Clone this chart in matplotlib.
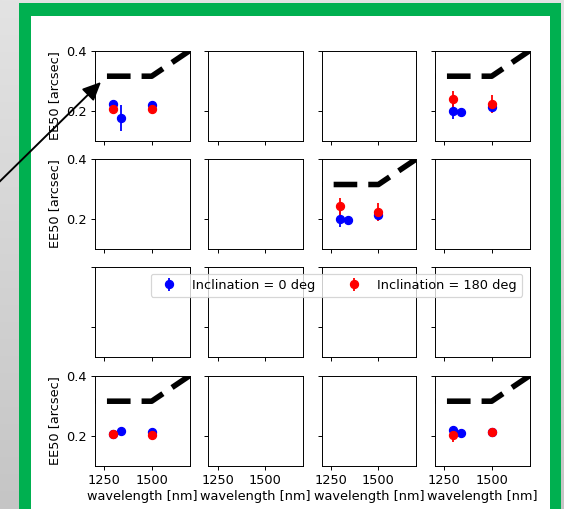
import numpy as np
import matplotlib
matplotlib.use("Agg")
import matplotlib.pyplot as plt
from matplotlib.patches import Rectangle

W, H, DPI = 564, 509, 87
plt.rcParams["font.size"] = 10.7

# ---------------- data ----------------
wave_blue = [1295, 1340, 1500]
wave_red = [1295, 1500]
req_wave = [1080, 1500, 1750]
req_ee50 = [0.315, 0.315, 0.421]
xtick_vals = [1250, 1500]
ytick_vals = [0.2, 0.4]
label_blue = "Inclination = 0 deg"
label_red = "Inclination = 180 deg"

blue_r0c0 = [0.222, 0.177, 0.219]
blue_err_r0c0 = [0.012, 0.043, 0.008]
red_r0c0 = [0.205, 0.205]
red_err_r0c0 = [0.005, 0.005]

blue_r0c3 = [0.199, 0.196, 0.212]
blue_err_r0c3 = [0.027, 0.005, 0.010]
red_r0c3 = [0.238, 0.222]
red_err_r0c3 = [0.028, 0.030]

blue_r1c2 = [0.201, 0.197, 0.213]
blue_err_r1c2 = [0.027, 0.005, 0.008]
red_r1c2 = [0.242, 0.224]
red_err_r1c2 = [0.028, 0.030]

blue_r3c0 = [0.207, 0.216, 0.213]
blue_err_r3c0 = [0.004, 0.004, 0.004]
red_r3c0 = [0.207, 0.202]
red_err_r3c0 = [0.004, 0.004]

blue_r3c3 = [0.220, 0.209, 0.211]
blue_err_r3c3 = [0.005, 0.004, 0.004]
red_r3c3 = [0.203, 0.211]
red_err_r3c3 = [0.023, 0.004]

panels = {
    (0, 0): (blue_r0c0, blue_err_r0c0, red_r0c0, red_err_r0c0),
    (0, 3): (blue_r0c3, blue_err_r0c3, red_r0c3, red_err_r0c3),
    (1, 2): (blue_r1c2, blue_err_r1c2, red_r1c2, red_err_r1c2),
    (3, 0): (blue_r3c0, blue_err_r3c0, red_r3c0, red_err_r3c0),
    (3, 3): (blue_r3c3, blue_err_r3c3, red_r3c3, red_err_r3c3),
}

# ---------------- figure ----------------
fig = plt.figure(figsize=(W / DPI, H / DPI), dpi=DPI)

# background (slide) in pixel coordinates, y from top
bg = fig.add_axes([0, 0, 1, 1], zorder=-5)
bg.set_xlim(0, W)
bg.set_ylim(H, 0)
bg.axis("off")
grad = np.linspace(0, 1, 256).reshape(-1, 1)
bg.imshow(grad, extent=(0, W, H, 0), cmap=matplotlib.colors.LinearSegmentedColormap.from_list(
    "g", ["#e3e3e3", "#c5c5c5"]), aspect="auto", zorder=0)
bg.add_patch(Rectangle((19, 3), 561 - 19, H + 20, facecolor="#00b050", edgecolor="none", zorder=1))
bg.add_patch(Rectangle((31, 16), 550 - 31, H + 20, facecolor="white", edgecolor="none", zorder=2))

col_left = [95, 208.3, 321.7, 435]
row_top = [50.7, 159, 267.3, 375.7]
aw, ah = 94.5, 90

handles = None
for r in range(4):
    for c in range(4):
        ax = fig.add_axes([col_left[c] / W, 1 - (row_top[r] + ah) / H, aw / W, ah / H])
        ax.set_xlim(1200, 1700)
        ax.set_ylim(0.1, 0.4)
        ax.set_xticks(xtick_vals)
        ax.set_yticks(ytick_vals)
        if (r, c) in panels:
            b, be, rd, rde = panels[(r, c)]
            ax.plot(req_wave, req_ee50, color="black", lw=4.6,
                    linestyle=(0, (4.25, 1.98)))
            hb = ax.errorbar(wave_blue, b, yerr=be, fmt="o", color="blue", ms=6.7,
                             label=label_blue)
            hr = ax.errorbar(wave_red, rd, yerr=rde, fmt="o", color="red", ms=6.7,
                             label=label_red)
            handles = [hb, hr]
        if r == 3:
            ax.set_xticklabels([str(v) for v in xtick_vals])
            ax.set_xlabel("wavelength [nm]", labelpad=2)
        else:
            ax.set_xticklabels([])
        if c == 0 and r != 2:
            ax.set_yticklabels(["0.2", "0.4"])
            ax.set_ylabel("EE50 [arcsec]")
        else:
            ax.set_yticklabels([])

fig.legend(handles, [label_blue, label_red], loc="center", ncol=2,
           bbox_to_anchor=(336.5 / W, 1 - 285.3 / H))

# arrow overlay
ov = fig.add_axes([0, 0, 1, 1], zorder=20)
ov.set_xlim(0, W)
ov.set_ylim(H, 0)
ov.axis("off")
ov.patch.set_alpha(0)
ov.annotate("", xy=(101, 82), xytext=(-10, 191),
            arrowprops=dict(arrowstyle="-|>,head_length=1.2,head_width=0.55",
                            color="black", lw=1.6, shrinkA=0, shrinkB=0))

fig.savefig("out.png", dpi=DPI)
